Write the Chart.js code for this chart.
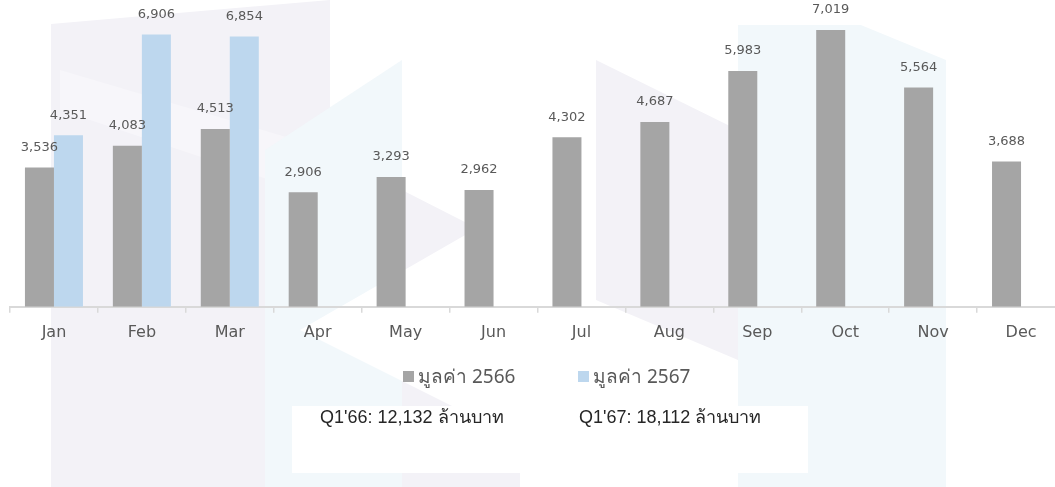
<!DOCTYPE html>
<html>
<head>
<meta charset="utf-8">
<script src="https://cdn.jsdelivr.net/npm/chart.js@4.4.1/dist/chart.umd.min.js"></script>
<style>
  html, body { margin: 0; padding: 0; background: #fff; overflow: hidden; }
  #wrap { position: relative; width: 1055px; height: 487px; overflow: hidden; }
  #bg { position: absolute; left: 0; top: 0; }
  #chartBox { position: absolute; left: 0; top: 0; width: 1068px; height: 487px; }
  .legend { position: absolute; top: 361px; font-family: "Noto Sans", "DejaVu Sans", sans-serif; font-size: 19px; color: #595959; white-space: nowrap; }
  .legend i { display: inline-block; width: 11px; height: 11px; margin-right: 4px; vertical-align: 1px; }
  #note { position: absolute; left: 292px; top: 406px; width: 516px; height: 67px; background: #fff; }
  .q { position: absolute; top: 402px; font-family: "Liberation Sans", Arial, sans-serif; font-size: 18px; color: #262626; white-space: nowrap; }
</style>
</head>
<body>
<div id="wrap">
  <svg id="bg" width="1055" height="487">
    <polygon points="51,24 330,0 330,140 265,150 265,487 51,487" fill="#f3f2f7"/>
    <polygon points="60,70 330,150 330,200 60,110" fill="#f7f6fa"/>
    <polygon points="265,150 402,60 402,487 265,487" fill="#f2f8fb"/>
    <polygon points="402,190 520,250 520,487 402,487" fill="#f3f2f7"/>
    <polygon points="300,330 500,215 700,330 500,430" fill="#ffffff"/>
    <polygon points="596,60 738,130 738,360 596,300" fill="#f3f2f7"/>
    <polygon points="738,25 946,25 946,487 738,487" fill="#f2f8fb"/>
    <polygon points="800,0 946,0 946,60" fill="#ffffff"/>
  </svg>
  <div id="chartBox"><canvas id="grafica"></canvas></div>
  <div class="legend" style="left:403px"><i style="background:#a5a5a5"></i>มูลค่า 2566</div>
  <div class="legend" style="left:578px"><i style="background:#bdd7ee"></i>มูลค่า 2567</div>
  <div id="note"></div>
  <div class="q" style="left:320px">Q1'66: 12,132 ล้านบาท</div>
  <div class="q" style="left:579px">Q1'67: 18,112 ล้านบาท</div>
</div>
<script>
const labels = ['Jan', 'Feb', 'Mar', 'Apr', 'May', 'Jun', 'Jul', 'Aug', 'Sep', 'Oct', 'Nov', 'Dec'];
const value2566 = [3536, 4083, 4513, 2906, 3293, 2962, 4302, 4687, 5983, 7019, 5564, 3688];
const value2567 = [4351, 6906, 6854, null, null, null, null, null, null, null, null, null];
const seriesNames = ['มูลค่า 2566', 'มูลค่า 2567'];
const colors = ['#a5a5a5', '#bdd7ee'];

// draw the numbers above each bar
const barLabels = {
    id: 'barLabels',
    afterDatasetsDraw(chart) {
        const ctx = chart.ctx;
        ctx.save();
        ctx.font = '13px "DejaVu Sans", sans-serif';
        ctx.fillStyle = '#595959';
        ctx.textAlign = 'center';
        ctx.textBaseline = 'middle';
        chart.data.datasets.forEach((ds, i) => {
            chart.getDatasetMeta(i).data.forEach((bar, j) => {
                const v = ds.data[j];
                if (v == null) return;
                ctx.fillText(v.toLocaleString('en-US'), bar.x, bar.y - 20);
            });
        });
        ctx.restore();
    }
};

const graph = document.querySelector('#grafica');

const data = {
    labels: labels,
    datasets: [{
        label: seriesNames[0],
        data: value2566,
        backgroundColor: colors[0],
        categoryPercentage: 0.66,
        barPercentage: 1
    }, {
        label: seriesNames[1],
        data: value2567,
        backgroundColor: colors[1],
        categoryPercentage: 0.66,
        barPercentage: 1
    }]
};

const config = {
    type: 'bar',
    data: data,
    options: {
        responsive: true,
        maintainAspectRatio: false,
        animation: false,
        layout: { padding: { left: 10, right: 3, top: 0, bottom: 135 } },
        plugins: {
            legend: { display: false },
            tooltip: { enabled: false }
        },
        scales: {
            x: {
                grid: { display: true, drawOnChartArea: false, color: '#d9d9d9', tickLength: 6, lineWidth: 1.5 },
                border: { display: true, color: '#d9d9d9', width: 2 },
                ticks: { color: '#595959', font: { family: '"DejaVu Sans", sans-serif', size: 16 }, padding: 10 }
            },
            y: {
                display: false,
                min: 0,
                max: 7782
            }
        }
    },
    plugins: [barLabels]
};

new Chart(graph, config);
</script>
</body>
</html>
